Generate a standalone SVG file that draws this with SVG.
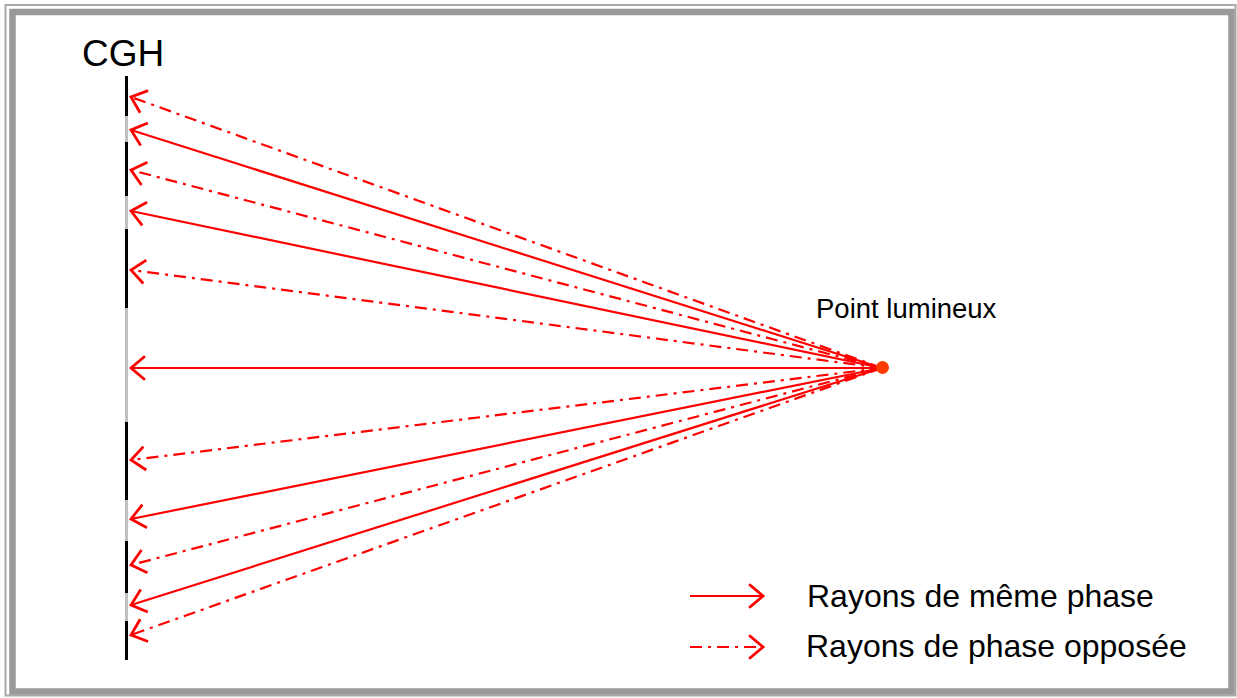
<svg xmlns="http://www.w3.org/2000/svg" width="1237" height="698" viewBox="0 0 1237 698">
  <style>
    .lbl { font-family: "Liberation Sans", Arial, sans-serif; fill: #000; }
    .ray { stroke: #ff0000; stroke-width: 2.2; fill: none; marker-end: url(#chev); }
    .dash { stroke-dasharray: 12 6 3 6; }
    .gray { stroke: #c0c0c0; stroke-width: 3; }
    .black { stroke: #000; stroke-width: 3; }
  </style>
  <defs>
    <marker id="chev" markerUnits="userSpaceOnUse" markerWidth="30" markerHeight="30" viewBox="-16 -14 20 28" refX="0" refY="0" orient="auto">
      <path d="M -13 -11 L 0 0 L -13 11" fill="none" stroke="#ff0000" stroke-width="2.6"/>
    </marker>
  </defs>
  <rect x="0" y="0" width="1237" height="698" fill="#fff"/>
  <g id="frame">
    <rect x="5.5" y="5" width="1230" height="690.5" fill="none" stroke="#a8a8a8" stroke-width="2"/>
    <rect x="12.5" y="12" width="1219" height="679.5" fill="none" stroke="#999" stroke-width="6.5"/>
  </g>
  <g id="cgh">
    <line class="gray" x1="126.5" y1="76" x2="126.5" y2="660"/>
    <line class="black" x1="126.5" y1="76" x2="126.5" y2="116"/>
    <line class="black" x1="126.5" y1="142" x2="126.5" y2="196"/>
    <line class="black" x1="126.5" y1="229" x2="126.5" y2="308"/>
    <line class="black" x1="126.5" y1="422" x2="126.5" y2="500"/>
    <line class="black" x1="126.5" y1="541" x2="126.5" y2="593"/>
    <line class="black" x1="126.5" y1="621" x2="126.5" y2="660"/>
    <text class="lbl" x="82" y="66" font-size="37">CGH</text>
  </g>
  <g id="connectors">
    <path class="ray dash" d="M 882 368 L 131 97"/>
    <path class="ray" d="M 882 368 L 131 130"/>
    <path class="ray dash" d="M 882 368 L 131 170"/>
    <path class="ray" d="M 882 368 L 131 211"/>
    <path class="ray dash" d="M 882 368 L 131 270"/>
    <path class="ray" d="M 882 368 L 131 368"/>
    <path class="ray dash" d="M 882 368 L 131 460"/>
    <path class="ray" d="M 882 368 L 131 519"/>
    <path class="ray dash" d="M 882 368 L 131 565"/>
    <path class="ray" d="M 882 368 L 131 605"/>
    <path class="ray dash" d="M 882 368 L 131 635"/>
  </g>
  <g id="source">
    <circle cx="882.5" cy="367.5" r="6.5" fill="#ff3c00"/>
    <text class="lbl" x="816" y="318" font-size="27.5">Point lumineux</text>
  </g>
  <g id="legend">
    <path class="ray" d="M 690 596 L 763 596"/>
    <path class="ray dash" d="M 690 647 L 763 647"/>
    <text class="lbl" x="807" y="607" font-size="32">Rayons de même phase</text>
    <text class="lbl" x="806" y="657" font-size="32">Rayons de phase opposée</text>
  </g>
</svg>
